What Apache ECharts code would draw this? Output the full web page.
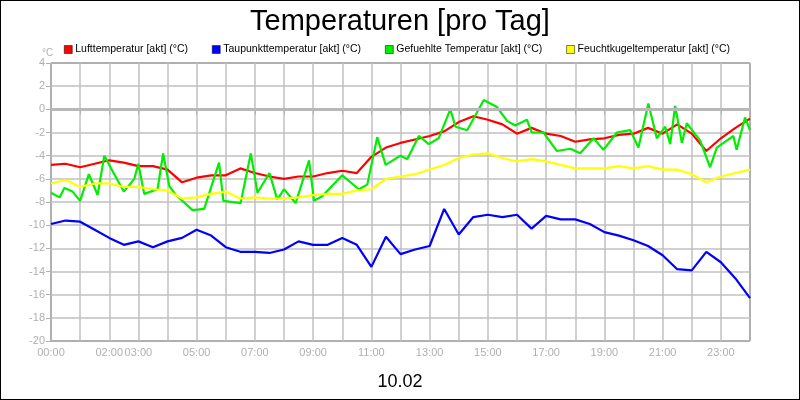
<!DOCTYPE html>
<html>
<head>
<meta charset="UTF-8">
<title>Temperaturen [pro Tag]</title>
<script src="https://cdn.jsdelivr.net/npm/echarts@6/dist/echarts.min.js"></script>
<style>
  html,body{margin:0;padding:0;width:800px;height:400px;background:#fff;}
  #chart{width:798px;height:398px;border:1px solid #000;}
</style>
</head>
<body>
<div id="chart"></div>
<script>
var hours = [0,0.5,1,1.5,2,2.5,3,3.5,4,4.5,5,5.5,6,6.5,7,7.5,8,8.5,9,9.5,10,10.5,11,11.5,
             12,12.5,13,13.5,14,14.5,15,15.5,16,16.5,17,17.5,18,18.5,19,19.5,20,20.5,21,21.5,22,22.5,23,23.5,24];
var luft = [-4.8,-4.7,-5.0,-4.7,-4.4,-4.6,-4.9,-4.9,-5.2,-6.3,-5.9,-5.7,-5.7,-5.1,-5.5,-5.8,-6.0,-5.8,-5.8,-5.5,-5.3,-5.5,-4.1,-3.3,
            -2.9,-2.6,-2.3,-1.9,-1.1,-0.6,-0.9,-1.3,-2.1,-1.6,-2.1,-2.3,-2.8,-2.6,-2.5,-2.2,-2.1,-1.6,-2.1,-1.3,-2.1,-3.6,-2.5,-1.6,-0.8];
var taupunkt = [-9.9,-9.6,-9.7,-10.4,-11.1,-11.7,-11.4,-11.9,-11.4,-11.1,-10.4,-10.9,-11.9,-12.3,-12.3,-12.4,-12.1,-11.4,-11.7,-11.7,-11.1,-11.7,-13.6,-11.0,
                -12.5,-12.1,-11.8,-8.6,-10.8,-9.3,-9.1,-9.3,-9.1,-10.3,-9.2,-9.5,-9.5,-9.9,-10.6,-10.9,-11.3,-11.8,-12.6,-13.8,-13.9,-12.3,-13.2,-14.6,-16.3];
var feuchtkugel = [-6.4,-6.1,-6.7,-6.4,-6.4,-6.7,-6.7,-6.9,-7.0,-7.7,-7.6,-7.3,-7.1,-7.7,-7.6,-7.7,-7.7,-7.6,-7.4,-7.3,-7.3,-7.0,-6.9,-6.0,
                   -5.8,-5.6,-5.2,-4.8,-4.2,-3.9,-3.8,-4.2,-4.5,-4.3,-4.5,-4.8,-5.1,-5.1,-5.1,-4.9,-5.1,-4.9,-5.2,-5.2,-5.6,-6.3,-5.8,-5.5,-5.2];
var gefuehltHours = [0,0.3,0.46,0.74,1,1.3,1.6,1.83,2.15,2.5,2.86,3,3.2,3.66,3.85,4.06,4.29,4.86,5.26,5.77,5.92,6.51,6.86,7.09,7.5,7.77,8,8.4,8.86,9.03,9.31,10,10.57,10.86,11.2,11.49,12,
                     12.23,12.63,12.97,13.31,13.71,13.89,14.29,14.86,15.31,15.66,15.94,16.34,16.51,16.91,17.37,17.83,18.17,18.63,18.97,19.43,19.89,20.17,20.51,20.8,21.09,21.26,21.43,21.66,21.83,22.29,22.63,22.86,23.09,23.43,23.54,23.83,24];
var gefuehlt = [-7.2,-7.6,-6.8,-7.1,-7.9,-5.6,-7.4,-4.0,-5.5,-7.1,-6.0,-4.7,-7.3,-6.9,-3.8,-6.6,-7.4,-8.7,-8.6,-4.6,-7.9,-8.1,-3.8,-7.2,-5.5,-7.8,-6.9,-8.1,-4.4,-7.9,-7.5,-5.7,-6.9,-6.5,-2.4,-4.8,-4.0,
                -4.3,-2.3,-3.0,-2.5,0.0,-1.5,-1.8,0.8,0.2,-1.0,-1.4,-0.9,-2.0,-2.0,-3.6,-3.4,-3.8,-2.5,-3.5,-2.0,-1.8,-3.3,0.5,-2.5,-1.5,-3.0,0.3,-2.9,-1.2,-2.7,-5.0,-3.3,-2.9,-2.3,-3.5,-0.7,-1.8];
var tickLabels = ['00:00','02:00','03:00','05:00','07:00','09:00','11:00','13:00','15:00','17:00','19:00','21:00','23:00'];
var names = ['Lufttemperatur [akt] (°C)','Taupunkttemperatur [akt] (°C)','Gefuehlte Temperatur [akt] (°C)','Feuchtkugeltemperatur [akt] (°C)'];
var colors = ['#ff0000','#0000ff','#00ee00','#ffff00'];

function pairs(xs, ys){ return xs.map(function(x,i){ return [x, ys[i]]; }); }
function line(name, data, color){
  return {name:name, type:'line', data:data, showSymbol:false, symbol:'none',
          lineStyle:{color:color, width:2.2}, itemStyle:{color:color}, z:3};
}

var chart = echarts.init(document.getElementById('chart'));
chart.setOption({
  animation:false,
  title:[
    {text:'Temperaturen [pro Tag]', left:'center', top:1, textStyle:{fontFamily:'Liberation Sans', fontSize:29, fontWeight:'normal', color:'#000'}},
    {text:'10.02', left:'center', top:367, textStyle:{fontFamily:'Liberation Sans', fontSize:18, fontWeight:'normal', color:'#000'}},
    {text:'°C', left:36, top:42, textStyle:{fontFamily:'Liberation Sans', fontSize:10, fontWeight:'normal', color:'#b0b0b0'}}
  ],
  legend:{top:38, left:58, itemWidth:8, itemHeight:8, itemGap:24, icon:'rect',
          textStyle:{fontFamily:'Liberation Sans', fontSize:10.5, color:'#000', padding:[0,0,0,-2]},
          data:names.map(function(n,i){ return {name:n, itemStyle:{color:colors[i], borderColor:'#000', borderWidth:0.5}}; })},
  grid:{left:50, right:49, top:62, bottom:58, show:true, borderColor:'#000', borderWidth:1},
  xAxis:{type:'value', min:0, max:24, interval:1,
         axisLine:{show:false}, axisTick:{show:true, lineStyle:{color:'#b0b0b0'}},
         splitLine:{show:true, lineStyle:{color:'#c0c0c0', width:1.5}},
         axisLabel:{color:'#b0b0b0', fontFamily:'Liberation Sans', fontSize:11, margin:6,
           formatter:function(v){ var s=(v<10?'0':'')+v+':00'; return tickLabels.indexOf(s)>=0 ? s : ''; }}},
  yAxis:{type:'value', min:-20, max:4, interval:2,
         axisLine:{show:false}, axisTick:{show:true, lineStyle:{color:'#b0b0b0'}},
         splitLine:{show:true, lineStyle:{color:'#c0c0c0', width:1.5}},
         axisLabel:{color:'#b0b0b0', fontFamily:'Liberation Sans', fontSize:11, margin:6}},
  series:[
    line(names[0], pairs(hours, luft), colors[0]),
    line(names[1], pairs(hours, taupunkt), colors[1]),
    line(names[2], pairs(gefuehltHours, gefuehlt), colors[2]),
    line(names[3], pairs(hours, feuchtkugel), colors[3]),
    {type:'line', data:[], silent:true, markLine:{symbol:'none', silent:true, label:{show:false},
      lineStyle:{color:'#b8b8b8', width:3, type:'solid'}, data:[{yAxis:0}]}}
  ]
});
</script>
</body>
</html>
